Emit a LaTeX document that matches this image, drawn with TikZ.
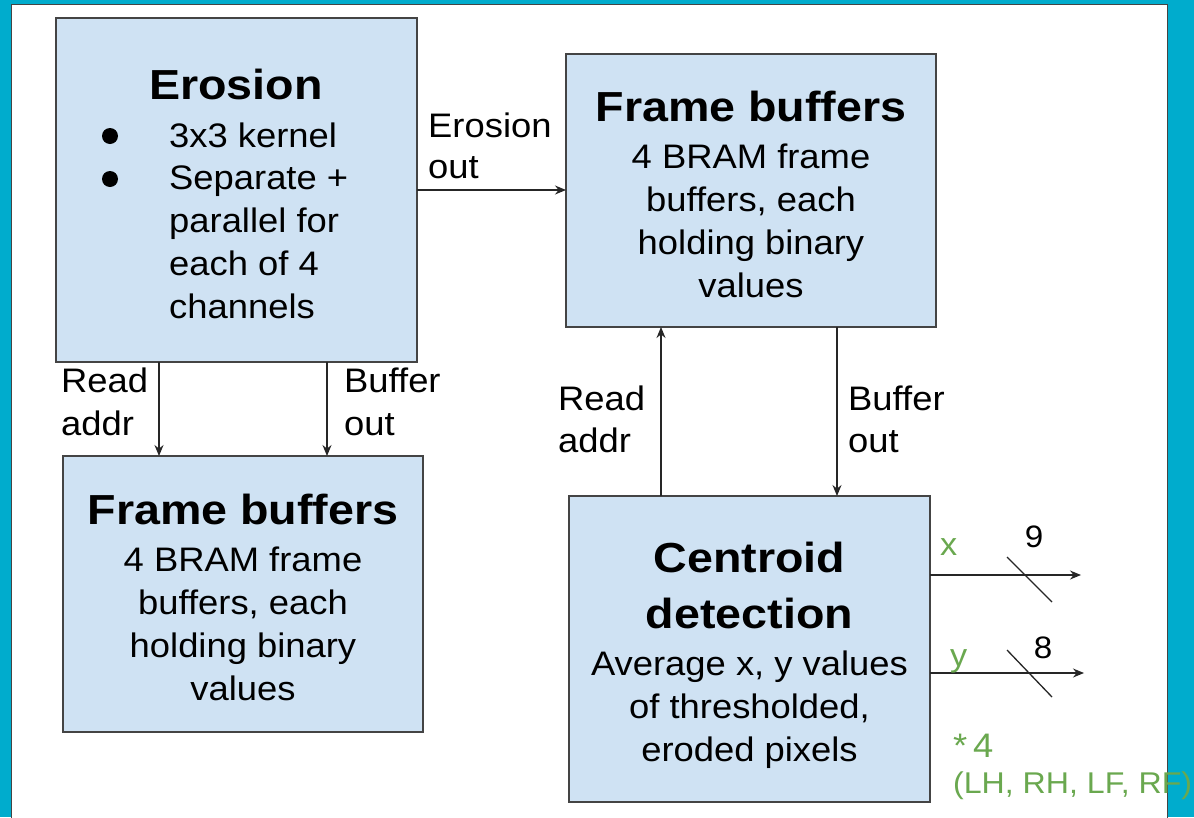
\documentclass[tikz,border=0pt]{standalone}
\usepackage{fontspec}
\setmainfont{Liberation Sans}[FakeStretch=1.07]
\newfontfamily\titlefont{Liberation Sans}[FakeStretch=1.11]
\usetikzlibrary{arrows.meta}
\definecolor{cyanbg}{RGB}{0,172,205}
\definecolor{boxfill}{HTML}{CFE2F3}
\definecolor{boxline}{HTML}{444444}
\definecolor{lblgreen}{HTML}{6AA84F}
\begin{document}
\begin{tikzpicture}[x=1pt,y=-1pt,
  blk/.style={draw=boxline,line width=1.5pt,fill=boxfill,inner sep=0pt,outer sep=0pt,anchor=north west},
  ttl/.style={font=\titlefont\bfseries\fontsize{42}{50}\selectfont,anchor=base,inner sep=0pt},
  bdy/.style={font=\fontsize{34}{43}\selectfont,anchor=base,inner sep=0pt},
  lbl/.style={font=\fontsize{34}{43}\selectfont,anchor=base west,inner sep=0pt},
  glbl/.style={font=\fontsize{32}{36}\selectfont,text=lblgreen,inner sep=0pt},
  num/.style={font=\fontsize{31}{36}\selectfont,anchor=base,inner sep=0pt},
  bul/.style={circle,fill=black,minimum size=16pt,inner sep=0pt},
  conn/.style={line width=1.3pt,draw=black!85,-{Stealth[length=11pt,width=9pt]}},
  slash/.style={line width=1.3pt,draw=black!85},
]
\useasboundingbox (0,0) rectangle (1194,817);
\fill[cyanbg] (0,0) rectangle (1194,817);
\filldraw[fill=white,draw=boxline,line width=1pt] (11,4) rectangle (1167,830);

% boxes
\node[blk,minimum width=361pt,minimum height=344pt] (ero) at (56,18) {};
\node[blk,minimum width=370pt,minimum height=273pt] (fbt) at (566,54) {};
\node[blk,minimum width=360pt,minimum height=276pt] (fbl) at (63,456) {};
\node[blk,minimum width=361pt,minimum height=306pt] (cen) at (569,496) {};

% Erosion text
\node[ttl] (eroT) at (236,99) {Erosion};
\node[bul] (b1) at (110,136) {};
\node[bul] (b2) at (110,179) {};
\node[lbl] (e1) at (169,147) {3x3 kernel};
\node[lbl] (e2) at (169,189) {Separate +};
\node[lbl] (e3) at (169,232) {parallel for};
\node[lbl] (e4) at (169,275) {each of 4};
\node[lbl] (e5) at (169,318) {channels};

% Frame buffers top
\node[ttl] (fbtT) at (751,121) {Frame buffers};
\node[bdy] (t1) at (751,168) {4 BRAM frame};
\node[bdy] (t2) at (751,211) {buffers, each};
\node[bdy] (t3) at (751,254) {holding binary};
\node[bdy] (t4) at (751,297) {values};

% Frame buffers left
\node[ttl] (fblT) at (243,524) {Frame buffers};
\node[bdy] (l1) at (243,571) {4 BRAM frame};
\node[bdy] (l2) at (243,614) {buffers, each};
\node[bdy] (l3) at (243,657) {holding binary};
\node[bdy] (l4) at (243,700) {values};

% Centroid
\node[ttl] (cenT1) at (749.5,572) {Centroid};
\node[ttl] (cenT2) at (749.5,628) {detection};
\node[bdy] (c1) at (749.5,675) {Average x, y values};
\node[bdy] (c2) at (749.5,718) {of thresholded,};
\node[bdy] (c3) at (749.5,761) {eroded pixels};

% connector labels
\node[lbl] (eo1) at (428,137) {Erosion};
\node[lbl] (eo2) at (428,178) {out};
\node[lbl] (ra1) at (61,392) {Read};
\node[lbl] (ra2) at (61,435) {addr};
\node[lbl] (bo1) at (344,392) {Buffer};
\node[lbl] (bo2) at (344,435) {out};
\node[lbl] (rb1) at (558,410) {Read};
\node[lbl] (rb2) at (558,452) {addr};
\node[lbl] (bb1) at (848,410) {Buffer};
\node[lbl] (bb2) at (848,452) {out};

% connectors
\draw[conn] (ero.east) -- (fbt.west |- ero.east);
\draw[conn] ([xshift=103pt]ero.south west) -- ([xshift=103pt]ero.south west |- fbl.north);
\draw[conn] ([xshift=271pt]ero.south west) -- ([xshift=271pt]ero.south west |- fbl.north);
\draw[conn] ([xshift=-88.5pt]cen.north) -- ([xshift=-88.5pt]cen.north |- fbt.south);
\draw[conn] ([xshift=86pt]fbt.south) -- ([xshift=86pt]fbt.south |- cen.north);

% outputs
\coordinate (xend) at (1081,575);
\coordinate (yend) at (1084,673);
\coordinate (xs1) at (1007,557);
\coordinate (xs2) at (1052,602);
\coordinate (ys1) at (1007,650);
\coordinate (ys2) at (1052,697);
\draw[conn] (cen.east |- xend) -- (xend);
\draw[conn] (cen.east |- yend) -- (yend);
\draw[slash] (xs1) -- (xs2);
\draw[slash] (ys1) -- (ys2);
\node[glbl,anchor=base west] (xl) at (940,555) {x};
\node[glbl,anchor=base west] (yl) at (950,666) {y};
\node[num] (n9) at (1034,547) {9};
\node[num] (n8) at (1043,658) {8};
\node[glbl,anchor=base west,font=\fontsize{34}{36}\selectfont] (mul) at (953,757) {*\,4};
\node[glbl,anchor=base west,font=\fontsize{30}{32}\selectfont] (ch) at (953,793) {(LH, RH, LF, RF)};
\end{tikzpicture}
\end{document}
